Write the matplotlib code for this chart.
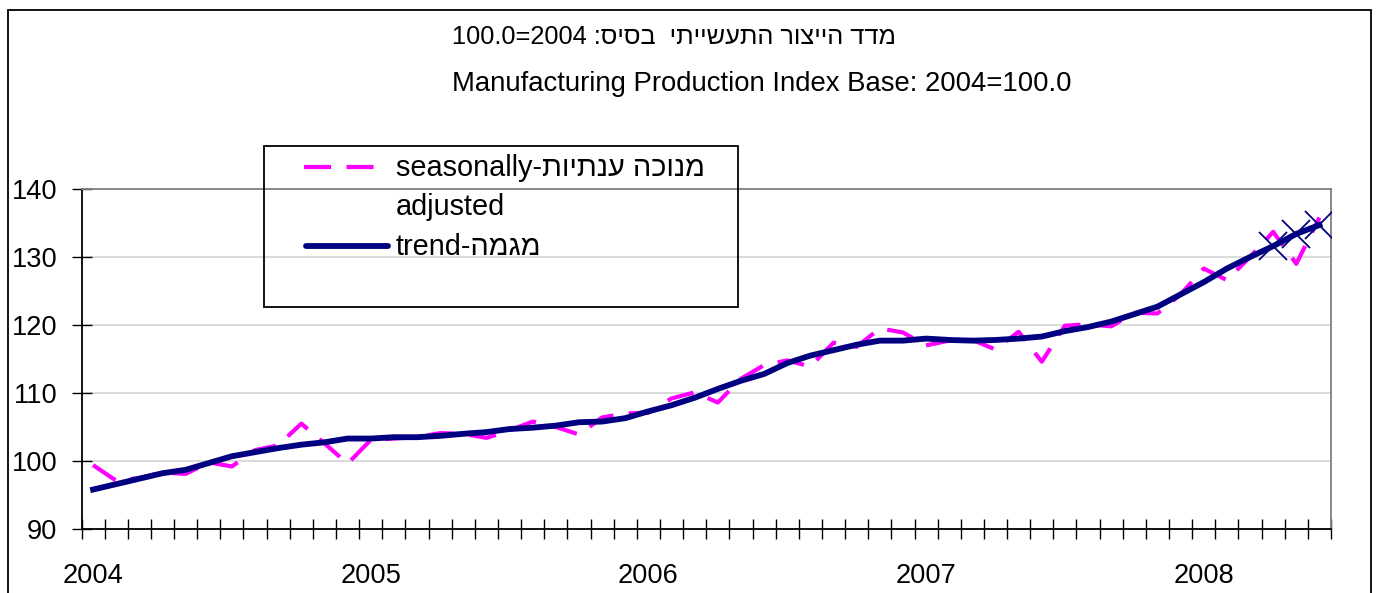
import numpy as np
import matplotlib
matplotlib.use("Agg")
import matplotlib.pyplot as plt
from matplotlib.lines import Line2D
from matplotlib.patches import Rectangle
from matplotlib.ticker import FixedLocator

plt.rcParams['font.family'] = ['Liberation Sans', 'DejaVu Sans']

# --- data (monthly, Jan 2004 - Jun 2008) ------------------------------------
year_labels = ["2004", "2005", "2006", "2007", "2008"]

seasonally_adjusted = [99.4, 97.1, 97.5, 98.3, 98.1, 99.8, 99.2, 101.6, 102.3, 105.5,
                       102.6, 99.6, 103.1, 103.3, 103.5, 104.1, 104.0, 103.4, 104.5, 105.8,
                       105.0, 103.9, 106.4, 107.0, 107.1, 109.2, 110.1, 108.6, 112.1, 114.1,
                       114.8, 113.9, 117.4, 116.8, 119.5, 118.9, 117.0, 117.7, 117.8, 116.4,
                       119.0, 114.6, 119.9, 120.1, 119.8, 121.8, 121.7, 124.5, 128.3, 126.6,
                       130.0, 133.7, 129.0, 135.8]

trend = [95.8, 96.6, 97.4, 98.2, 98.7, 99.7, 100.7, 101.3, 101.9, 102.4,
         102.75, 103.3, 103.3, 103.5, 103.5, 103.7, 104.0, 104.25, 104.7, 104.9,
         105.2, 105.7, 105.8, 106.3, 107.3, 108.2, 109.3, 110.6, 111.8, 112.8,
         114.4, 115.5, 116.3, 117.1, 117.7, 117.7, 118.0, 117.8, 117.7, 117.8,
         118.0, 118.3, 119.1, 119.7, 120.5, 121.6, 122.7, 124.5, 126.3, 128.3,
         130.0, 131.6, 133.4, 134.7]

n_estimated = 3   # last trend points marked with x

title_he = "מדד הייצור התעשייתי  בסיס"
title_en = "Manufacturing Production Index Base: 2004=100.0"
label_sa_he = "מנוכה ענתיות"
label_trend_he = "מגמה"


def rtl(s):
    # matplotlib has no bidi support -> feed Hebrew in visual order
    return s[::-1]


W, H = 1376, 593
MAGENTA = "#FF00FF"
NAVY = "#000080"


def px(x, y):
    return x / W, 1 - y / H


fig = plt.figure(figsize=(W / 100, H / 100), dpi=100)

# outer chart border
fig.patches.append(Rectangle(px(7.5, 640), (1370.5 - 7.5) / W, (640 - 10) / H,
                             transform=fig.transFigure, fill=False,
                             edgecolor="black", linewidth=1.3))

ax = fig.add_axes([81.5 / W, 1 - 529 / H, (1331 - 81.5) / W, 340 / H])

x = np.arange(len(trend))
ax.plot(x, seasonally_adjusted, color=MAGENTA, linewidth=3.0,
        dashes=(6.5, 3.7), dash_capstyle="butt", zorder=3)
ax.plot(x, trend, color=NAVY, linewidth=4.2, solid_joinstyle="round", zorder=4)
ax.plot(x[-n_estimated:], trend[-n_estimated:], linestyle="none", marker="x",
        markersize=20, markeredgewidth=1.3, color=NAVY, zorder=5)

ax.set_xlim(-0.5, len(trend) - 0.5)
ax.set_ylim(90, 140)

ax.set_yticks(np.arange(90, 141, 10))
ax.tick_params(axis="y", direction="inout", length=14, width=1, pad=10.5, labelsize=19.6)
ax.grid(axis="y", color="#d4d4d4", linewidth=1.2)
ax.set_axisbelow(True)

ax.set_xticks(np.arange(0, len(trend), 12))
ax.set_xticklabels(year_labels)
ax.xaxis.set_minor_locator(FixedLocator(np.arange(-0.5, len(trend), 1)))
ax.tick_params(axis="x", which="major", length=0, pad=24.5, labelsize=19.6)
ax.tick_params(axis="x", which="minor", direction="inout", length=14, width=1)

for side in ("left", "bottom"):
    ax.spines[side].set_color("black")
    ax.spines[side].set_linewidth(1.3)
for side in ("top", "right"):
    ax.spines[side].set_color("#808080")
    ax.spines[side].set_linewidth(1.3)

# titles (left aligned, like the original)
fig.text(*px(452, 37), "100.0=2004 :" + rtl(title_he), fontsize=18.3,
         ha="left", va="center")
fig.text(*px(452, 84), title_en, fontsize=19.8, ha="left", va="center")

# legend box
fig.patches.append(Rectangle(px(264, 307), (738 - 264) / W, (307 - 146) / H,
                             transform=fig.transFigure, fill=False,
                             edgecolor="black", linewidth=1.3))
fig.lines.append(Line2D([304 / W, 375 / W], [1 - 167 / H] * 2, transform=fig.transFigure,
                        color=MAGENTA, linewidth=3.0, dashes=(6.5, 3.7),
                        dash_capstyle="butt"))
fig.lines.append(Line2D([306 / W, 388 / W], [1 - 246 / H] * 2, transform=fig.transFigure,
                        color=NAVY, linewidth=4.2, solid_capstyle="round"))
fig.text(*px(396, 168), "seasonally-" + rtl(label_sa_he), fontsize=20.8,
         ha="left", va="center")
fig.text(*px(396, 207), "adjusted", fontsize=20.8, ha="left", va="center")
fig.text(*px(396, 247), "trend-" + rtl(label_trend_he), fontsize=20.8,
         ha="left", va="center")

fig.savefig("out.png", dpi=100)
